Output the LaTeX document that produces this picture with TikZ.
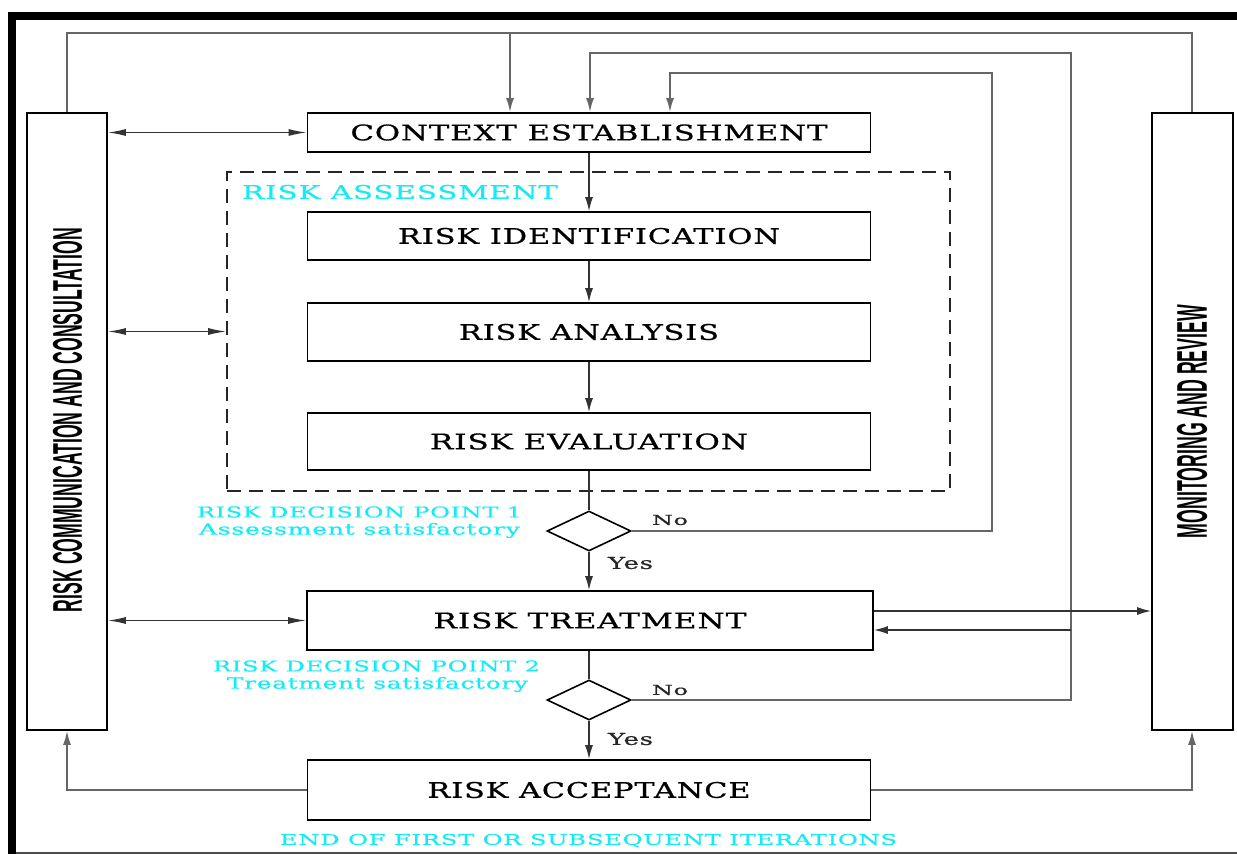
\documentclass[tikz,border=0pt]{standalone}
\usepackage{graphicx}
\usepackage{fontspec}
\setmainfont{DejaVu Serif}[LetterSpace=3, FakeBold=0.6]
\setsansfont{Liberation Sans}
\usetikzlibrary{arrows.meta,shapes.geometric}
\newcommand{\capfit}[3]{\resizebox{#1pt}{#2pt}{#3}}
\newcommand{\allfit}[3]{\resizebox*{#1pt}{#2pt}{#3}}
\definecolor{lblcyan}{RGB}{20,235,245}
\tikzset{
  stepbox/.style={draw=black, line width=1.8pt, inner sep=0pt, minimum width=563pt},
  tallbox/.style={draw=black, line width=1.8pt, inner sep=0pt, minimum width=80pt, minimum height=617pt},
  decis/.style={diamond, draw=black, line width=1.6pt, inner sep=0pt, minimum width=84pt, minimum height=40pt},
  conn/.style={draw=black!80, line width=1.3pt},
  arr/.style={conn, -{Latex[length=14pt,width=8pt]}},
  darr/.style={conn, {Latex[length=18pt,width=7pt]}-{Latex[length=18pt,width=7pt]}},
  loopline/.style={draw=black!60, line width=1.7pt},
  looparr/.style={loopline, -{Latex[length=14pt,width=8pt]}},
  lbl/.style={inner sep=0pt, text=lblcyan},
  yn/.style={inner sep=0pt, text=black!85}
}
\begin{document}
\begin{tikzpicture}[x=1pt,y=-1pt]
\useasboundingbox (0,0) rectangle (1237,854);
% frame
\fill[black] (8,12) rectangle (1237,20);
\fill[black] (8,12) rectangle (16,854);
\draw[black!70, line width=1.5pt] (16,853) -- (1237,853);

% side boxes
\node[tallbox] (comm) at (67,421.5) {};
\node[tallbox, minimum width=81pt] (mon) at (1192.5,421.5) {};
\node[rotate=90, inner sep=0pt] (commlbl) at (67.5,420) {\capfit{384}{29}{\sffamily\bfseries RISK COMMUNICATION AND CONSULTATION}};
\node[rotate=90, inner sep=0pt] (monlbl) at (1192,421.5) {\capfit{233}{30}{\sffamily\bfseries MONITORING AND REVIEW}};

% risk assessment dashed frame
\node[draw=black!85, line width=1.6pt, dash pattern=on 14pt off 8pt, minimum width=723pt, minimum height=319pt, inner sep=0pt] (assess) at (588.5,331.5) {};
\node[lbl] (assesslbl) at (400,192) {\capfit{316}{14}{RISK ASSESSMENT}};

% main steps
\node[stepbox, minimum height=39pt] (ctx) at (589,132.5) {\capfit{477}{16}{CONTEXT ESTABLISHMENT}};
\node[stepbox, minimum height=48pt] (rid) at (589,236) {\capfit{382}{16}{RISK IDENTIFICATION}};
\node[stepbox, minimum height=58pt] (ran) at (589,332) {\capfit{260}{16}{RISK ANALYSIS}};
\node[stepbox, minimum height=57pt] (rev) at (589,441.5) {\capfit{318}{16}{RISK EVALUATION}};
\node[decis] (d1) at (589,531) {};
\node[stepbox, minimum width=566pt, minimum height=59pt] (rtr) at (590,620.5) {\capfit{313}{16}{RISK TREATMENT}};
\node[decis] (d2) at (589,700) {};
\node[stepbox, minimum height=60pt] (rac) at (589,790) {\capfit{323}{16}{RISK ACCEPTANCE}};

% decision labels
\node[lbl] (dp1) at (359.5,512) {\capfit{325}{11}{RISK DECISION POINT 1}};
\node[lbl] (dp1b) at (359.5,530.5) {\allfit{321}{15}{Assessment satisfactory}};
\node[lbl] (dp2) at (376.5,666) {\capfit{327}{11}{RISK DECISION POINT 2}};
\node[lbl] (dp2b) at (377.5,684.5) {\allfit{301}{15}{Treatment satisfactory}};
\node[lbl] (endlbl) at (588.5,840.5) {\capfit{617}{11}{END OF FIRST OR SUBSEQUENT ITERATIONS}};

\node[yn] (no1) at (670,520) {\capfit{36}{10}{No}};
\node[yn] (yes1) at (630.5,563) {\capfit{45}{12}{Yes}};
\node[yn] (no2) at (670,690) {\capfit{36}{10}{No}};
\node[yn] (yes2) at (630.5,739) {\capfit{45}{12}{Yes}};

% main flow
\draw[arr] (ctx) -- (rid);
\draw[arr] (rid) -- (ran);
\draw[arr] (ran) -- (rev);
\draw[conn] (rev) -- (d1);
\draw[arr] (d1) -- (rtr.north -| d1);
\draw[conn] (rtr.south -| d2) -- (d2);
\draw[arr] (d2) -- (rac);

% top loops
\coordinate (r3) at (1192,33);
\coordinate (c0) at (510,33);
\coordinate (r2) at (1071,53);
\coordinate (c2) at (590,53);
\coordinate (r1) at (992,73);
\coordinate (c1) at (670,73);
\draw[loopline] (comm.north) -- (comm.north |- r3) -- (r3) -- (mon.north -| r3);
\draw[looparr] (c0) -- (c0 |- ctx.north);
\draw[looparr] (d2.east) -| (r2) -- (c2) -- (c2 |- ctx.north);
\draw[looparr] (d1.east) -| (r1) -- (c1) -- (c1 |- ctx.north);

% treatment links
\draw[arr] ([yshift=9.5pt]rtr.east) -- ([yshift=9.5pt]rtr.east -| mon.west);
\draw[arr] ([yshift=-9.5pt]rtr.east -| r2) -- ([yshift=-9.5pt]rtr.east);

% communication links
\draw[darr] (comm.east |- ctx) -- (ctx.west);
\draw[darr] (comm.east |- assess) -- (assess.west);
\draw[darr] (comm.east |- rtr) -- (rtr.west);

% acceptance links
\draw[looparr] (rac.west) -| (comm.south);
\draw[looparr] (rac.east) -| (mon.south -| r3);
\end{tikzpicture}
\end{document}
